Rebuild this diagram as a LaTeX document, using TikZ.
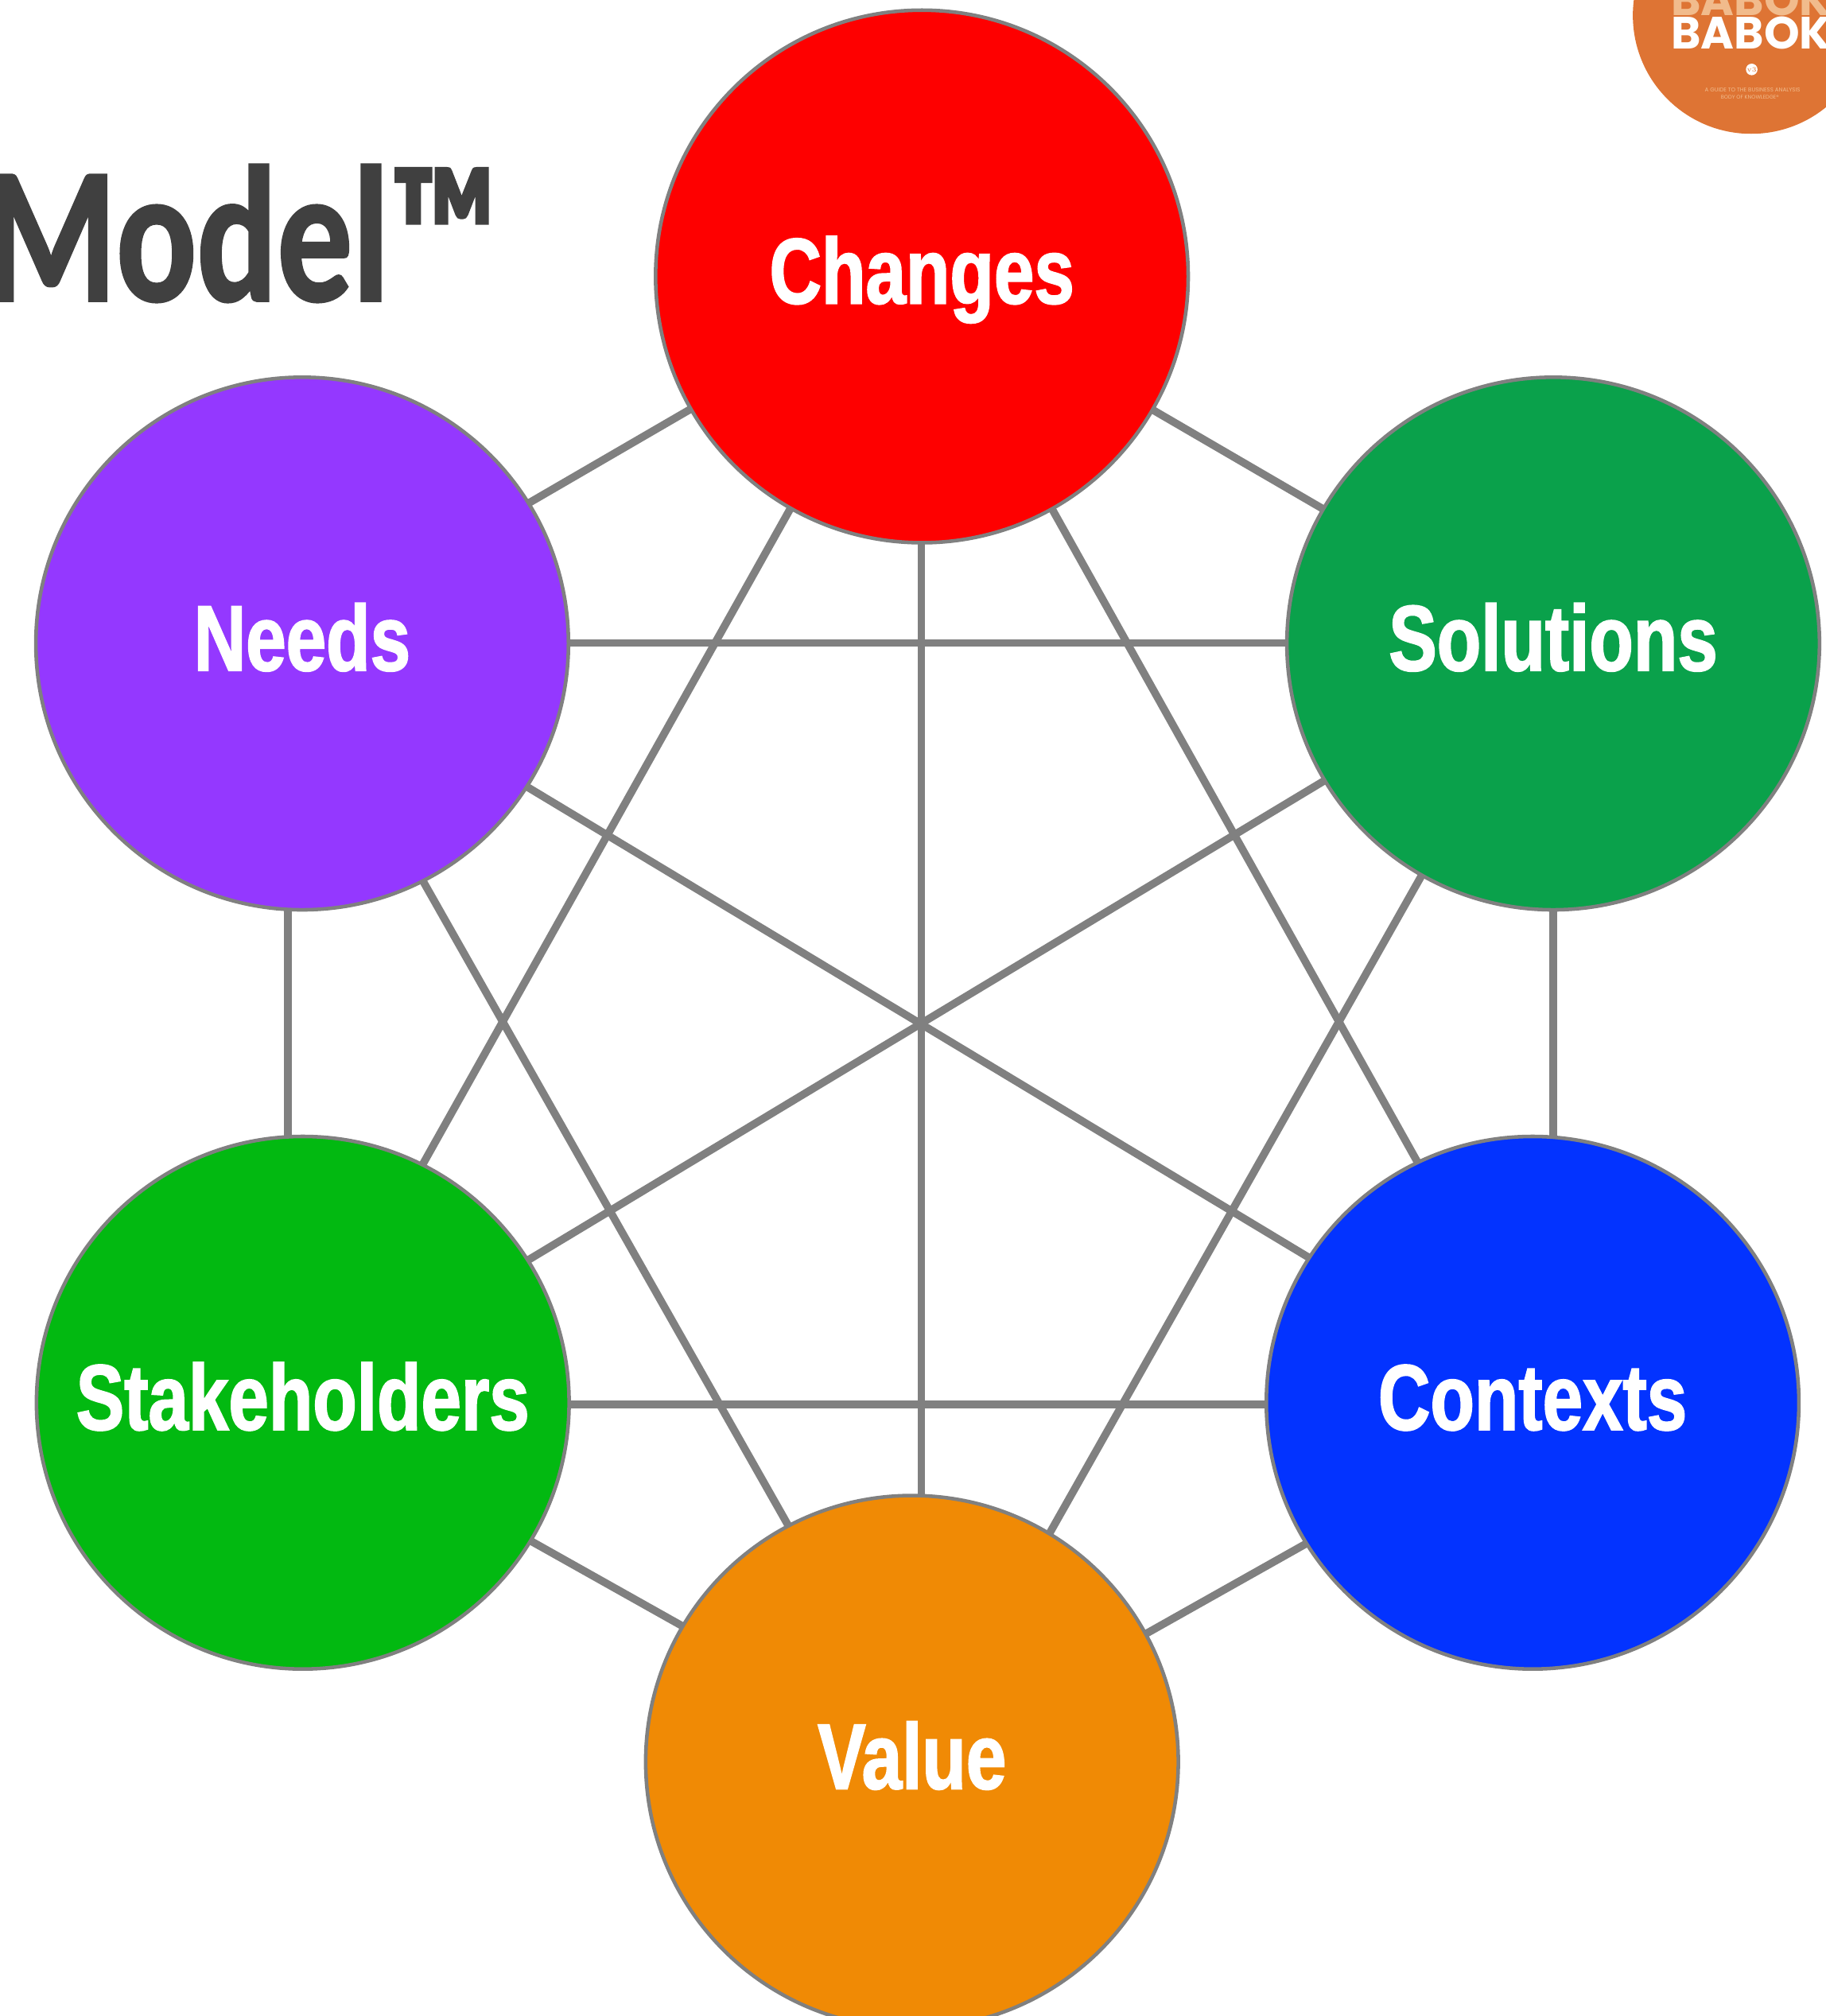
\documentclass[tikz,border=0pt]{standalone}
\usepackage{fontspec}
\usepackage{graphicx}
\newfontfamily\labfont{Liberation Sans Bold}[FakeStretch=0.775,FakeBold=1.6]
\newfontfamily\ttlfont{Carlito Bold}[FakeStretch=0.77,FakeBold=1.2]
\newfontfamily\logofont{Poppins Bold}
\newfontfamily\logosmall{Poppins}
\definecolor{cChanges}{HTML}{FE0000}
\definecolor{cNeeds}{HTML}{9438FF}
\definecolor{cSolutions}{HTML}{0AA14B}
\definecolor{cStake}{HTML}{02B911}
\definecolor{cContexts}{HTML}{0333FF}
\definecolor{cValue}{HTML}{F08A05}
\definecolor{edgegray}{HTML}{808080}
\definecolor{titlegray}{HTML}{404040}
\definecolor{logoor}{HTML}{DE7434}
\definecolor{logopeach}{HTML}{F1BB8C}
\tikzset{
  bub/.style={circle, draw=edgegray, line width=0.8pt, minimum size=4.14cm,
    inner sep=0pt, text=white,
    font={\labfont\fontsize{20.6pt}{24pt}\selectfont},
    text height=0.42cm, text depth=0cm},
  link/.style={draw=edgegray, line width=1.7pt},
  logotext/.style={anchor=base west, inner sep=0pt,
    font={\logofont\fontsize{10pt}{11pt}\selectfont}}
}
\begin{document}
\begin{tikzpicture}[x=0.01cm,y=-0.01cm]
\useasboundingbox (0,0) rectangle (1420,1568);
% hexagon vertices where the connectors meet
\coordinate (vCh) at (716.5,214);
\coordinate (vSo) at (1208,500);
\coordinate (vCo) at (1208,1092.5);
\coordinate (vVa) at (716.5,1369);
\coordinate (vSt) at (224,1092.5);
\coordinate (vNe) at (224,500);
% connectors (complete graph)
\draw[link] (vCh) -- (vNe);
\draw[link] (vCh) -- (vSo);
\draw[link] (vCh) -- (vSt);
\draw[link] (vCh) -- (vCo);
\draw[link] (vCh) -- (vVa);
\draw[link] (vNe) -- (vSo);
\draw[link] (vNe) -- (vSt);
\draw[link] (vNe) -- (vCo);
\draw[link] (vNe) -- (vVa);
\draw[link] (vSo) -- (vSt);
\draw[link] (vSo) -- (vCo);
\draw[link] (vSo) -- (vVa);
\draw[link] (vSt) -- (vCo);
\draw[link] (vSt) -- (vVa);
\draw[link] (vCo) -- (vVa);
% circles
\node[bub, fill=cChanges] (ch) at (717,215) {Changes};
\node[bub, fill=cNeeds] (ne) at (235,500.5) {Needs};
\node[bub, fill=cSolutions] (so) at (1208,500.5) {Solutions};
\node[bub, fill=cStake] (st) at (235.5,1091) {Stakeholders};
\node[bub, fill=cContexts] (co) at (1192,1091) {Contexts};
\node[bub, fill=cValue] (va) at (709.3,1370.3) {Value};
% title
\node[anchor=base west, inner sep=0pt, text=titlegray,
  font={\ttlfont\fontsize{43pt}{48pt}\selectfont}] (title) at (-12,234) {Model™};
% logo
\node[circle, fill=logoor, minimum size=1.84cm, inner sep=0pt] (logo) at (1362,12) {};
\node[logotext, text=logopeach] (babokA) at (1299,12) {BABOK};
\node[logotext, text=white] (babokB) at (1299,38.2) {BABOK};
\node[circle, fill=white, minimum size=0.09cm, inner sep=0pt, text=logoor,
  font={\fontsize{1.5pt}{1.5pt}\selectfont}] (ver) at (1362.4,54) {v3};
\node[inner sep=0pt, text=logopeach] (guide1) at (1363,70.1)
  {\resizebox{0.74cm}{!}{\logosmall A GUIDE TO THE BUSINESS ANALYSIS}};
\node[inner sep=0pt, text=logopeach] (guide2) at (1361,75.3)
  {\resizebox{0.45cm}{!}{\logosmall BODY OF KNOWLEDGE®}};
\end{tikzpicture}
\end{document}
